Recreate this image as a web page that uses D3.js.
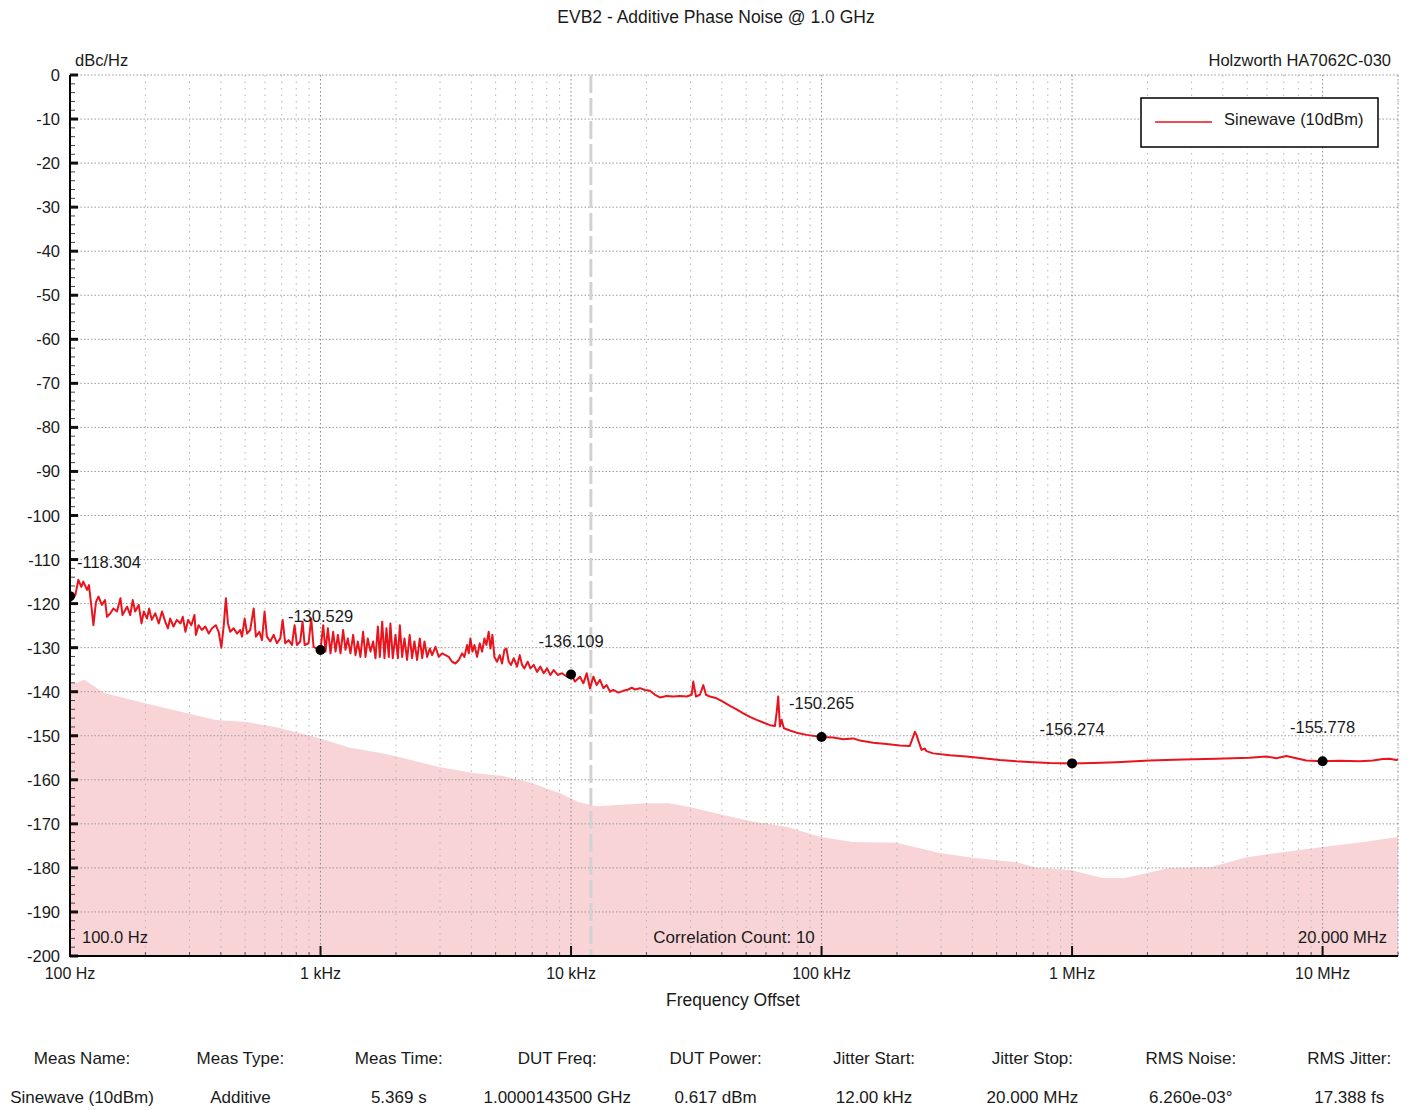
<!DOCTYPE html>
<html>
<head>
<meta charset="utf-8">
<script src="https://cdn.jsdelivr.net/npm/d3@7"></script>
<style>
  html, body { margin: 0; padding: 0; background: #fff; }
  svg text { font-family: "Liberation Sans", Arial, sans-serif; fill: #1a1a1a; }
</style>
</head>
<body>
<svg id="chart" width="1410" height="1110"></svg>
<script>
// ---------------- DATA ----------------
const titleText = "EVB2 - Additive Phase Noise @ 1.0 GHz";
const instrumentText = "Holzworth HA7062C-030";
const yUnitText = "dBc/Hz";
const xAxisTitle = "Frequency Offset";
const seriesName = "Sinewave (10dBm)";

const yTickValues = [0, -10, -20, -30, -40, -50, -60, -70, -80, -90, -100, -110, -120, -130, -140, -150, -160, -170, -180, -190, -200];
const xTickValues = [100, 1e3, 1e4, 1e5, 1e6, 1e7];
const xTickLabels = ["100 Hz", "1 kHz", "10 kHz", "100 kHz", "1 MHz", "10 MHz"];

// measured phase noise (red trace)
const noiseFreq = [
  100, 105, 108, 111, 113, 117, 119, 122, 124, 127, 130, 134, 138, 140.5, 145, 149, 154, 159, 162, 169,
  174, 178, 182, 188, 193, 197, 203, 207, 212, 219, 226, 233, 240, 246, 251, 259, 267, 276, 282, 289,
  296, 305, 314, 318, 326, 336, 347, 358, 369, 382, 392, 402, 411, 419, 427, 436, 450, 464, 478, 486,
  498, 509, 524, 541, 552, 570, 584, 598, 611, 630, 650, 670, 691, 706, 723, 746, 769, 788, 805, 830,
  848, 864, 896, 918, 938, 967, 991,
  1000, 1025, 1047, 1070, 1096, 1123, 1148, 1173, 1202, 1231, 1258, 1285, 1317, 1350, 1379, 1409, 1443, 1479, 1512, 1544,
  1583, 1622, 1657, 1694, 1725, 1763, 1800, 1833, 1873, 1901, 1943, 1992, 2036, 2073, 2117, 2163, 2216, 2269, 2320, 2370,
  2430, 2490, 2546, 2600, 2664, 2731, 2789, 2876, 2966, 3057, 3152, 3251, 3352, 3456, 3564, 3675, 3754, 3847, 3906, 3966,
  4040, 4115, 4217, 4322, 4416, 4511, 4594, 4693, 4766, 4855, 4944, 5067, 5193, 5305, 5420, 5521, 5641, 5763, 5906, 6089,
  6241, 6374, 6513, 6715, 6883, 7097, 7318, 7546, 7780, 8022, 8271, 8528, 8849, 9207, 9639,
  10000, 10370, 10860, 11200, 11550, 11900, 12280, 12660, 13050, 13460, 13880, 14310, 14750, 15450, 16180, 16930, 17460, 18000, 18850, 19730,
  20670, 21640, 22650, 24070, 25600, 27210, 28940, 30300, 30760, 31520, 32700, 33720, 34560, 35850, 38120, 40530, 43080, 45800, 48690, 51760,
  55040, 58520, 62220, 65130, 66130, 67150, 68200, 69250, 70750, 74750, 79480, 87130,
  100000, 111300, 122000, 133800, 142200, 160800, 181700, 205400, 225100, 232100, 235700, 239300, 243000, 250600, 258400, 262300, 278900, 325100, 378900, 441500,
  514500, 599700, 698900, 814500, 1000000, 1213000, 1503000, 2041000, 2772000, 3765000, 5115000, 5961000, 6533000, 7163000, 7852000, 8605000,
  10000000, 11690000, 14050000, 15880000, 17410000, 18510000, 19670000, 20000000
];
const noiseDb = [
  -119.6, -118.1, -114.6, -116.2, -115.0, -116.9, -115.8, -121.1, -124.9, -119.6, -118.4, -120.3, -119.2, -123.0, -122.2, -121.1, -121.8, -118.8, -122.6, -120.7,
  -122.6, -119.2, -121.8, -120.3, -124.5, -121.8, -123.4, -121.1, -123.7, -122.2, -124.5, -121.8, -124.1, -125.6, -123.4, -125.2, -123.7, -124.5, -123.0, -126.4,
  -123.7, -124.9, -122.6, -127.1, -124.9, -126.0, -125.2, -126.8, -125.6, -124.9, -126.4, -130.0, -124.9, -118.8, -124.5, -126.4, -125.6, -126.8, -126.0, -127.5,
  -123.4, -126.8, -126.0, -121.1, -127.5, -126.4, -128.3, -121.8, -127.5, -128.6, -127.1, -129.0, -127.9, -123.7, -129.0, -128.3, -129.4, -124.9, -129.4, -128.6,
  -124.1, -129.4, -129.0, -123.4, -129.8, -130.2, -130.5,
  -130.5, -124.9, -130.9, -125.6, -131.3, -126.4, -130.9, -127.1, -131.3, -126.0, -130.5, -127.9, -131.3, -127.1, -131.7, -128.6, -132.1, -126.4, -132.1, -127.9,
  -130.9, -128.6, -132.4, -125.2, -132.1, -124.1, -132.4, -125.6, -132.1, -124.5, -132.4, -127.1, -132.4, -124.9, -132.1, -127.9, -132.8, -127.1, -132.4, -128.6,
  -132.8, -127.9, -132.4, -128.6, -132.1, -130.2, -131.7, -129.8, -132.1, -131.3, -131.7, -132.1, -133.2, -133.6, -132.8, -131.3, -132.1, -129.4, -131.3, -127.9,
  -130.9, -129.4, -132.1, -129.0, -130.9, -127.9, -129.4, -126.4, -130.2, -127.1, -132.1, -133.2, -131.7, -133.6, -130.5, -130.2, -133.2, -133.9, -132.4, -134.3,
  -131.7, -133.9, -134.7, -133.2, -134.7, -133.9, -135.5, -134.3, -135.8, -134.7, -136.2, -135.1, -136.2, -135.8, -136.6,
  -136.1, -137.7, -136.6, -138.1, -135.8, -139.2, -136.6, -138.5, -137.3, -139.2, -138.5, -140.0, -139.6, -140.2, -139.8, -139.5, -139.1, -139.5, -139.2, -139.6,
  -139.8, -140.7, -141.3, -141.0, -141.1, -141.0, -141.1, -140.7, -137.7, -141.1, -140.7, -138.5, -140.7, -141.1, -141.5, -142.3, -143.2, -144.0, -144.9, -145.7,
  -146.4, -147.0, -147.6, -147.8, -144.9, -141.1, -147.9, -146.4, -148.3, -148.8, -149.3, -149.8,
  -150.3, -150.4, -150.8, -150.6, -151.1, -151.6, -151.9, -152.2, -152.3, -150.2, -149.1, -149.8, -151.0, -153.2, -152.9, -153.5, -154.0, -154.4, -154.7, -155.1,
  -155.5, -155.8, -156.0, -156.2, -156.3, -156.2, -156.0, -155.6, -155.4, -155.2, -155.0, -154.7, -155.1, -154.6, -155.1, -155.6,
  -155.8, -155.7, -155.8, -155.6, -155.3, -155.2, -155.5, -155.4
];

// instrument noise floor (pink area)
const floorFreq = [100, 114, 137, 199, 300, 382, 511, 681, 985, 1310, 1742, 2055, 2970, 4130, 5300, 6785, 8300, 9020, 10640, 12560,
  20050, 24550, 29790, 40360, 54600, 73300, 99300, 133200, 199500, 296300, 401000, 601000, 729000, 986000, 1324000, 1622000, 1985000, 2429000, 3606000, 4887000,
  6553000, 9816000, 14580000, 20000000];
const floorDb = [-138.5, -137.3, -140.3, -142.6, -145.0, -146.4, -146.9, -148.2, -150.5, -152.7, -153.9, -154.8, -157.1, -158.5, -159.1, -160.5, -162.3, -163.0, -165.0, -166.0,
  -165.3, -165.3, -166.2, -168.0, -169.6, -170.7, -173.0, -174.1, -174.3, -176.6, -177.7, -178.7, -180.0, -180.5, -182.3, -182.3, -181.2, -180.0, -179.8, -177.7,
  -176.6, -175.3, -174.1, -173.0];

// spot-noise markers
const markerFreq = [100, 1e3, 1e4, 1e5, 1e6, 1e7];
const markerDb = [-118.304, -130.529, -136.109, -150.265, -156.274, -155.778];

const jitterStartHz = 12000;
const startLabel = "100.0 Hz";
const correlationLabel = "Correlation Count: 10";
const stopLabel = "20.000 MHz";

const tableHeaders = ["Meas Name:", "Meas Type:", "Meas Time:", "DUT Freq:", "DUT Power:", "Jitter Start:", "Jitter Stop:", "RMS Noise:", "RMS Jitter:"];
const tableValues = ["Sinewave (10dBm)", "Additive", "5.369 s", "1.0000143500 GHz", "0.617 dBm", "12.00 kHz", "20.000 MHz", "6.260e-03°", "17.388 fs"];

// ---------------- DRAW ----------------
const svg = d3.select("#chart");
const L = 70, R = 1398, T = 75, B = 956;
const x = d3.scaleLog().domain([100, 2e7]).range([L, R]);
const y = d3.scaleLinear().domain([-200, 0]).range([B, T]);

const RED = "#e8141e";
const PINK = "#f9d4d7";
const FS = 16.5;

svg.append("defs").append("clipPath").attr("id", "plotClip")
  .append("rect").attr("x", L).attr("y", T - 2).attr("width", R - L).attr("height", B - T + 2);

// pink noise floor area
const floorPts = floorFreq.map((f, i) => [f, floorDb[i]]);
svg.append("path")
  .datum(floorPts)
  .attr("fill", PINK)
  .attr("clip-path", "url(#plotClip)")
  .attr("d", d3.area().x(d => x(d[0])).y0(y(-200)).y1(d => y(d[1])));

// grid
const grid = svg.append("g");
yTickValues.filter(v => v > -200).forEach(v => {
  grid.append("line").attr("x1", L).attr("x2", R).attr("y1", y(v)).attr("y2", y(v))
    .attr("stroke", "#9a9a9a").attr("stroke-width", 1).attr("stroke-dasharray", "1.5,2");
});
const minorFreqs = [];
for (let e = 2; e <= 7; e++) {
  for (let k = 1; k <= 9; k++) {
    const f = k * Math.pow(10, e);
    if (f > 100 && f <= 2e7) minorFreqs.push(f);
  }
}
minorFreqs.forEach(f => {
  const decade = xTickValues.includes(f);
  grid.append("line").attr("x1", x(f)).attr("x2", x(f)).attr("y1", T).attr("y2", B)
    .attr("stroke", decade ? "#8a8a8a" : "#b4b4b4").attr("stroke-width", 1)
    .attr("stroke-dasharray", decade ? "1.5,2.5" : "1.5,5");
});
grid.append("line").attr("x1", R).attr("x2", R).attr("y1", T).attr("y2", B)
  .attr("stroke", "#9a9a9a").attr("stroke-width", 1).attr("stroke-dasharray", "1.5,2.5");

// jitter start dashed line
svg.append("line").attr("x1", x(jitterStartHz)).attr("x2", x(jitterStartHz)).attr("y1", T).attr("y2", B)
  .attr("stroke", "#d2d2d2").attr("stroke-width", 3).attr("stroke-dasharray", "18,5");

// red trace
const noisePts = noiseFreq.map((f, i) => [f, noiseDb[i]]);
svg.append("path")
  .datum(noisePts)
  .attr("fill", "none").attr("stroke", RED).attr("stroke-width", 2)
  .attr("stroke-linejoin", "round")
  .attr("clip-path", "url(#plotClip)")
  .attr("d", d3.line().x(d => x(d[0])).y(d => y(d[1])));

// axes
const ax = svg.append("g");
d3.range(-200, 1, 2).forEach(v => {
  if (v % 10 !== 0) {
    ax.append("line").attr("x1", L).attr("x2", L + 5).attr("y1", y(v)).attr("y2", y(v))
      .attr("stroke", "#444").attr("stroke-width", 1);
  }
});
yTickValues.forEach(v => {
  ax.append("line").attr("x1", L).attr("x2", L + 8).attr("y1", y(v)).attr("y2", y(v))
    .attr("stroke", "#111").attr("stroke-width", 3);
  ax.append("text").attr("x", 60).attr("y", y(v)).attr("text-anchor", "end")
    .attr("dominant-baseline", "central").attr("font-size", FS).text(v);
});
minorFreqs.forEach(f => {
  const decade = xTickValues.includes(f);
  ax.append("line").attr("x1", x(f)).attr("x2", x(f)).attr("y1", B).attr("y2", B - (decade ? 10 : 4))
    .attr("stroke", decade ? "#111" : "#555").attr("stroke-width", decade ? 2 : 1);
});
ax.append("line").attr("x1", L).attr("x2", L).attr("y1", T).attr("y2", B + 1).attr("stroke", "#000").attr("stroke-width", 2);
ax.append("line").attr("x1", L - 1).attr("x2", R).attr("y1", B).attr("y2", B).attr("stroke", "#000").attr("stroke-width", 2);
xTickValues.forEach((f, i) => {
  ax.append("text").attr("x", x(f)).attr("y", 973).attr("text-anchor", "middle")
    .attr("dominant-baseline", "central").attr("font-size", 16).text(xTickLabels[i]);
});

// markers
markerFreq.forEach((f, i) => {
  const cx = x(f), cy = y(markerDb[i]);
  svg.append("circle").attr("cx", cx).attr("cy", cy).attr("r", 5).attr("fill", "#000")
    .attr("clip-path", "url(#plotClip)");
  const t = svg.append("text").attr("y", cy - 34).attr("dominant-baseline", "central")
    .attr("font-size", FS).text(markerDb[i].toFixed(3));
  if (cx - 40 < L) t.attr("x", L + 7).attr("text-anchor", "start");
  else t.attr("x", cx).attr("text-anchor", "middle");
});

// texts
svg.append("text").attr("x", 716).attr("y", 17).attr("text-anchor", "middle")
  .attr("dominant-baseline", "central").attr("font-size", 17.5).text(titleText);
svg.append("text").attr("x", 75).attr("y", 60).attr("dominant-baseline", "central")
  .attr("font-size", FS).text(yUnitText);
svg.append("text").attr("x", 1391).attr("y", 60).attr("text-anchor", "end")
  .attr("dominant-baseline", "central").attr("font-size", FS).text(instrumentText);
svg.append("text").attr("x", 733).attr("y", 1000).attr("text-anchor", "middle")
  .attr("dominant-baseline", "central").attr("font-size", 17.5).text(xAxisTitle);
svg.append("text").attr("x", 82).attr("y", 937).attr("dominant-baseline", "central")
  .attr("font-size", FS).text(startLabel);
svg.append("text").attr("x", (L + R) / 2).attr("y", 937).attr("text-anchor", "middle")
  .attr("dominant-baseline", "central").attr("font-size", 17).text(correlationLabel);
svg.append("text").attr("x", 1387).attr("y", 937).attr("text-anchor", "end")
  .attr("dominant-baseline", "central").attr("font-size", FS).text(stopLabel);

// legend
const lg = svg.append("g");
lg.append("rect").attr("x", 1141).attr("y", 98).attr("width", 237).attr("height", 49)
  .attr("fill", "#fff").attr("stroke", "#000").attr("stroke-width", 1.5);
lg.append("line").attr("x1", 1155).attr("x2", 1212).attr("y1", 122).attr("y2", 122)
  .attr("stroke", RED).attr("stroke-width", 1.5);
lg.append("text").attr("x", 1224).attr("y", 119).attr("dominant-baseline", "central")
  .attr("font-size", FS).text(seriesName);

// table
tableHeaders.forEach((h, i) => {
  const cx = 82 + i * 158.4;
  svg.append("text").attr("x", cx).attr("y", 1058).attr("text-anchor", "middle")
    .attr("dominant-baseline", "central").attr("font-size", 17).text(h);
  svg.append("text").attr("x", cx).attr("y", 1097).attr("text-anchor", "middle")
    .attr("dominant-baseline", "central").attr("font-size", 17).text(tableValues[i]);
});
</script>
</body>
</html>
